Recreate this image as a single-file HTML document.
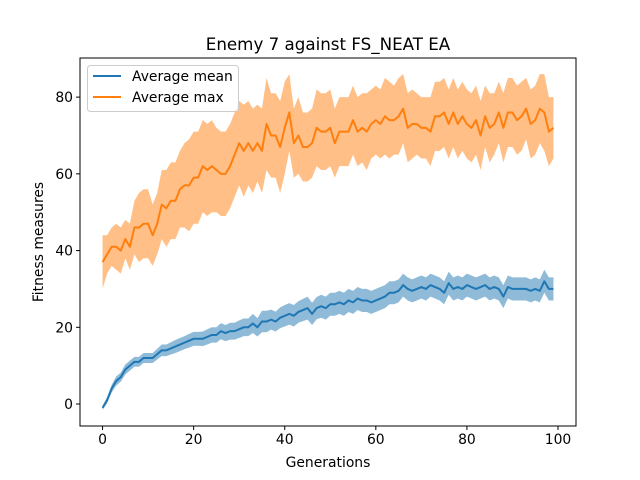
<!DOCTYPE html>
<html><head><meta charset="utf-8"><style>
body{margin:0;background:#fff;}
svg{display:block;font-family:"DejaVu Sans","Liberation Sans",sans-serif;}
</style></head><body>
<svg id="chart" width="640" height="480">
<rect x="0" y="0" width="640" height="480" fill="#fff"/>
<text x="328" y="50" font-size="16.7" text-anchor="middle">Enemy 7 against FS_NEAT EA</text>
<g id="plot"></g>
<text x="328" y="467" font-size="13.9" text-anchor="middle">Generations</text>
<text transform="translate(43,242) rotate(-90)" font-size="13.9" text-anchor="middle">Fitness measures</text>
<g>
<rect x="87.5" y="65.5" width="151" height="46" rx="3" fill="#fff" fill-opacity="0.8" stroke="#ccc"/>
<line x1="93" y1="76" x2="121" y2="76" stroke="#1f77b4" stroke-width="2"/>
<text x="132" y="81" font-size="13.9">Average mean</text>
<line x1="93" y1="97" x2="121" y2="97" stroke="#ff7f0e" stroke-width="2"/>
<text x="132" y="102" font-size="13.9">Average max</text>
</g>
</svg>
<script>
const maxVals=[37,39,41,41,40,43,41,46,46,47,47,44,47,52,51,53,53,56,57,57,59,59,62,61,62,61,60,60,62,65,68,66,68,66,68,66,73,70,70,67,72,76,68,70,67,67,68,72,71,71,72,68,71,71,71,74,71,72,71,73,74,73,75,74,74,75,77,72,73,73,72,72,71,75,75,76,73,76,73,75,73,72,74,70,75,72,73,76,72,76,76,74,75,77,73,74,77,76,71,72];
const maxStd=[7,5,5,6,6,5,6,7,9,9,9,8,8,9,10,10,10,10,11,12,12,12,12,12,12,11,11,11,11,11,11,12,11,11,10,11,12,11,11,12,12,10,9,10,9,9,9,10,10,10,10,9,9,9,9,9,9,9,10,9,9,9,10,10,9,10,9,9,9,8,8,8,9,9,9,9,9,9,9,9,9,9,9,9,8,9,8,8,9,9,9,9,9,8,9,9,9,10,9,8];
const meanVals=[-1,1,4,6,7,9,10,11,11,12,12,12,13,14,14,14.5,15,15.5,16,16.5,17,17,17,17.5,18,18,19,18.5,19,19,19.5,20,20,21,20,21.5,21.5,22,21.5,22.5,23,23.5,23,24,24.5,25,23.5,25,25.5,25,26,26,26.5,26,27,26.5,27.5,27,27,26.5,27,27.5,28,29,29,29.5,31,30,29.5,30,30.5,30,31,30.5,30,29,31.5,30,30.5,30,31,30.5,30,30.5,31,30,30.5,30,28,30.5,30,30,30,30,29.5,30,29.5,32,30,30];
const meanStd=[0.5,0.8,1,1.2,1.2,1.3,1.3,1.3,1.3,1.3,1.3,1.3,1.4,1.5,1.5,1.6,1.7,1.7,1.7,1.8,1.8,1.8,1.9,2,2,2,2.1,2.1,2.2,2.2,2.3,2.3,2.3,2.5,2.4,2.8,2.8,2.6,2.6,2.7,2.8,2.8,2.8,2.8,2.9,3,2.9,2.9,3,3,3,3,3,3,3,3,3,3,3,3,3,3,3,3,3,3,3,3,3,3,3,3,3,3,3,3,3,3,3,3,3,3,3,3,3,3,3,3,3,3,3,3,3,3,3,3,3,3,3,3];
const xTicks=[0,20,40,60,80,100];
const yTicks=[0,20,40,60,80];
const L=80,R=576,T=58,B=426,X0=-4.95,X1=103.95,Y0=-5.73,Y1=90.2;
const sx=v=>L+(v-X0)/(X1-X0)*(R-L);
const sy=v=>B-(v-Y0)/(Y1-Y0)*(B-T);
const NS='http://www.w3.org/2000/svg';
const g=document.getElementById('plot');
function mk(t,a,p){const e=document.createElementNS(NS,t);for(const k in a)e.setAttribute(k,a[k]);(p||g).appendChild(e);return e;}
function band(vals,sd,color,name){
  let up=vals.map((v,i)=>sx(i)+','+sy(v+sd[i]));
  let dn=vals.map((v,i)=>sx(i)+','+sy(v-sd[i])).reverse();
  const e=mk('polygon',{points:up.concat(dn).join(' '),fill:color,'fill-opacity':0.5});
  
  
}
function line(vals,color,name){
  const e=mk('polyline',{points:vals.map((v,i)=>sx(i)+','+sy(v)).join(' '),fill:'none',stroke:color,'stroke-width':2,'stroke-linejoin':'round'});
  
  
}
band(meanVals,meanStd,'#1f77b4','mean-band');
line(meanVals,'#1f77b4','mean-line');
band(maxVals,maxStd,'#ff7f0e','max-band');
line(maxVals,'#ff7f0e','max-line');
const fr=mk('rect',{x:L,y:T,width:R-L,height:B-T,fill:'none',stroke:'#000','stroke-width':1});


xTicks.forEach(v=>{
  const x=sx(v);
  const t=mk('line',{x1:x,y1:B,x2:x,y2:B+4,stroke:'#000'});
  
  
  const l=mk('text',{x:x,y:B+18,'font-size':13.9,'text-anchor':'middle'});
  l.textContent=v;
  
  
});
yTicks.forEach(v=>{
  const y=sy(v);
  const t=mk('line',{x1:L-4,y1:y,x2:L,y2:y,stroke:'#000'});
  
  
  const l=mk('text',{x:L-7,y:y+5,'font-size':13.9,'text-anchor':'end'});
  l.textContent=v;
  
  
});
</script>
</body></html>
